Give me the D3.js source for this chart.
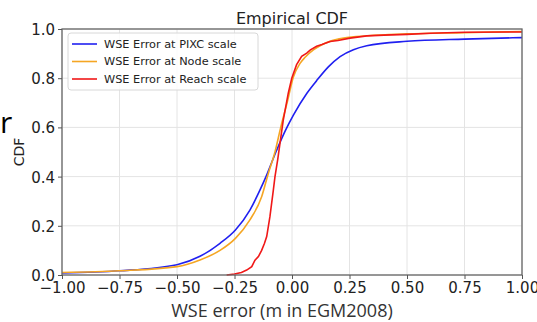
<!DOCTYPE html>
<html>
<head>
<meta charset="utf-8">
<script src="https://cdn.jsdelivr.net/npm/d3@7"></script>
<style>
  body { margin: 0; background: #fff; }
  svg { display: block; }
</style>
</head>
<body>
<div id="chart"></div>
<script>
// values
const xTicks = [-1, -0.75, -0.5, -0.25, 0, 0.25, 0.5, 0.75, 1];
const yTicks = [0, 0.2, 0.4, 0.6, 0.8, 1.0];

const pixcX = [-1, -0.75, -0.5, -0.4, -0.313, -0.246, -0.183, -0.139, -0.113, -0.07, -0.03, 0.006, 0.064, 0.107, 0.158, 0.209, 0.267, 0.325, 0.5, 0.75, 1];
const pixcY = [0.008, 0.017, 0.042, 0.076, 0.129, 0.183, 0.264, 0.346, 0.40, 0.50, 0.585, 0.65, 0.738, 0.79, 0.846, 0.888, 0.916, 0.932, 0.95, 0.959, 0.965];

const nodeX = [-1, -0.75, -0.5, -0.4, -0.313, -0.246, -0.183, -0.132, -0.103, -0.074, -0.049, -0.02, 0.006, 0.035, 0.057, 0.093, 0.122, 0.238, 0.5, 0.75, 1];
const nodeY = [0.01, 0.017, 0.034, 0.061, 0.10, 0.149, 0.224, 0.318, 0.413, 0.50, 0.60, 0.705, 0.805, 0.86, 0.885, 0.915, 0.932, 0.965, 0.98, 0.985, 0.99];

const reachX = [-0.284, -0.25, -0.22, -0.197, -0.175, -0.161, -0.146, -0.132, -0.12, -0.11, -0.096, -0.081, -0.074, -0.062, -0.05, -0.038, -0.016, -0.001, 0.02, 0.042, 0.064, 0.08, 0.107, 0.13, 0.165, 0.2, 0.252, 0.325, 0.4, 0.5, 0.6, 0.75, 1];
const reachY = [0.0, 0.004, 0.01, 0.02, 0.034, 0.06, 0.075, 0.10, 0.128, 0.156, 0.237, 0.346, 0.40, 0.47, 0.55, 0.63, 0.74, 0.80, 0.855, 0.889, 0.902, 0.915, 0.93, 0.937, 0.949, 0.953, 0.963, 0.972, 0.975, 0.978, 0.983, 0.987, 0.988];

const seriesNames = ["WSE Error at PIXC scale", "WSE Error at Node scale", "WSE Error at Reach scale"];
const seriesColors = ["#2020f0", "#f5a623", "#f01818"];

const W = 537, H = 322;
const m = {left: 62, right: 15, top: 29, bottom: 47};

const svg = d3.select("#chart").append("svg")
  .attr("width", W).attr("height", H);

const x = d3.scaleLinear().domain([-1, 1]).range([m.left, W - m.right]);
const y = d3.scaleLinear().domain([0, 1]).range([H - m.bottom, m.top]);

// grid
svg.append("g").selectAll("line").data(xTicks).join("line")
  .attr("x1", d => x(d)).attr("x2", d => x(d))
  .attr("y1", y(0)).attr("y2", y(1))
  .attr("stroke", "#e4e4e4").attr("stroke-width", 1);
svg.append("g").selectAll("line").data(yTicks).join("line")
  .attr("x1", x(-1)).attr("x2", x(1))
  .attr("y1", d => y(d)).attr("y2", d => y(d))
  .attr("stroke", "#e4e4e4").attr("stroke-width", 1);

// lines
const line = d3.line().x(d => x(d[0])).y(d => y(d[1]));
const series = [
  {pts: d3.zip(pixcX, pixcY), curve: d3.curveMonotoneX},
  {pts: d3.zip(nodeX, nodeY), curve: d3.curveMonotoneX},
  {pts: d3.zip(reachX, reachY), curve: d3.curveLinear}
];
series.forEach((s, i) => {
  svg.append("path")
    .attr("d", line.curve(s.curve)(s.pts))
    .attr("fill", "none")
    .attr("stroke", seriesColors[i])
    .attr("stroke-width", 1.6);
});

// frame
svg.append("rect")
  .attr("x", x(-1)).attr("y", y(1))
  .attr("width", x(1) - x(-1)).attr("height", y(0) - y(1))
  .attr("fill", "none").attr("stroke", "#666").attr("stroke-width", 1.3);

// axes
const font = "DejaVu Sans, sans-serif";
const xAxis = svg.append("g")
  .attr("transform", `translate(0,${y(0)})`)
  .call(d3.axisBottom(x).tickValues(xTicks).tickFormat(d3.format(".2f")).tickSize(4).tickPadding(3));
const yAxis = svg.append("g")
  .attr("transform", `translate(${x(-1)},0)`)
  .call(d3.axisLeft(y).tickValues(yTicks).tickFormat(d3.format(".1f")).tickSize(4).tickPadding(3));
[xAxis, yAxis].forEach(a => {
  a.select(".domain").remove();
  a.selectAll(".tick line").attr("stroke", "#555");
  a.selectAll(".tick text").attr("fill", "#222")
    .style("font-family", font).style("font-size", "15px");
});
yAxis.selectAll(".tick text").attr("dy", "0.36em");

// title and labels
svg.append("text").attr("x", x(0)).attr("y", 24)
  .attr("text-anchor", "middle").attr("fill", "#222")
  .style("font-family", font).style("font-size", "16px")
  .text("Empirical CDF");

svg.append("text")
  .attr("transform", `translate(24,${(y(0) + y(1)) / 2}) rotate(-90)`)
  .attr("text-anchor", "middle").attr("fill", "#222")
  .style("font-family", font).style("font-size", "14px")
  .text("CDF");

svg.append("text").attr("x", 0).attr("y", 133)
  .attr("fill", "#000")
  .style("font-family", "Open Sans, sans-serif").style("font-size", "30px")
  .text("r");

svg.append("text").attr("x", 282).attr("y", 317)
  .attr("text-anchor", "middle").attr("fill", "#333")
  .style("font-family", "Open Sans, sans-serif").style("font-size", "18px")
  .text("WSE error (m in EGM2008)");

// legend
const lg = svg.append("g").attr("transform", "translate(68,33)");
lg.append("rect").attr("width", 190).attr("height", 57).attr("rx", 3)
  .attr("fill", "#fff").attr("fill-opacity", 0.85)
  .attr("stroke", "#d8d8d8");
seriesNames.forEach((n, i) => {
  const yy = 11 + i * 17.5;
  lg.append("line").attr("x1", 4).attr("x2", 29).attr("y1", yy).attr("y2", yy)
    .attr("stroke", seriesColors[i]).attr("stroke-width", 1.6);
  lg.append("text").attr("x", 36).attr("y", yy).attr("dy", "0.35em")
    .attr("fill", "#222")
    .style("font-family", font).style("font-size", "11.3px")
    .text(n);
});
</script>
</body>
</html>
